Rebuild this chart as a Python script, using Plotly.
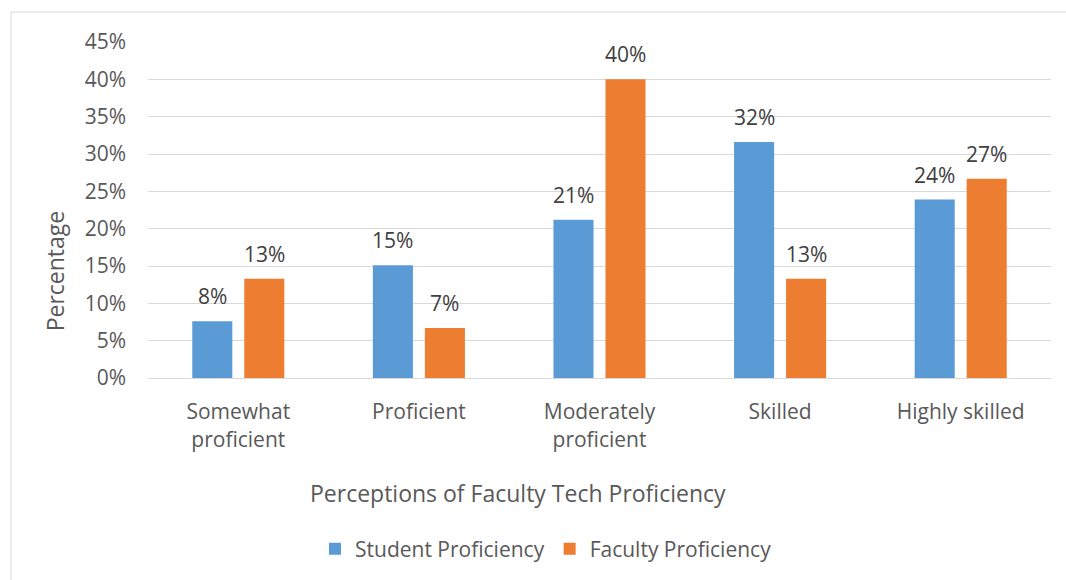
import plotly.graph_objects as go

categories = ["Somewhat<br>proficient", "Proficient", "Moderately<br>proficient", "Skilled", "Highly skilled"]
student = [7.6, 15.1, 21.2, 31.6, 23.9]
faculty = [13.3, 6.7, 40.0, 13.3, 26.7]
student_labels = ["8%", "15%", "21%", "32%", "24%"]
faculty_labels = ["13%", "7%", "40%", "13%", "27%"]
y_ticks = [0, 5, 10, 15, 20, 25, 30, 35, 40, 45]
y_ticklabels = [f"{v}%" for v in y_ticks]
x_title = "Perceptions of Faculty Tech Proficiency"
y_title = "Percentage"

FONT = "Open Sans"
BLUE = "#5B9BD5"
ORANGE = "#ED7D31"

W, H = 1066, 580
L, T = 148, 42
PW, PH = 903, 337
R, B = W - L - PW, H - T - PH


def px_x(page_x):
    return (page_x - L) / PW


def px_y(page_y):
    return (PH + T - page_y) / PH


fig = go.Figure()
fig.add_trace(go.Bar(name="Student Proficiency", x=categories, y=student,
                     marker=dict(color=BLUE, line=dict(width=0))))
fig.add_trace(go.Bar(name="Faculty Proficiency", x=categories, y=faculty,
                     marker=dict(color=ORANGE, line=dict(width=0))))

annotations = []
for cat, v, lab in zip(categories, student, student_labels):
    annotations.append(dict(x=cat, y=v, xref="x", yref="y", text=lab, showarrow=False,
                            xshift=-26, yshift=9, yanchor="bottom",
                            font=dict(family=FONT, size=21, color="#404040")))
for cat, v, lab in zip(categories, faculty, faculty_labels):
    annotations.append(dict(x=cat, y=v, xref="x", yref="y", text=lab, showarrow=False,
                            xshift=26, yshift=9, yanchor="bottom",
                            font=dict(family=FONT, size=21, color="#404040")))
annotations.append(dict(x=px_x(518), y=px_y(494), xref="paper", yref="paper", text=x_title,
                        showarrow=False, xanchor="center", yanchor="middle",
                        font=dict(family=FONT, size=23, color="#595959")))
annotations.append(dict(x=px_x(55), y=px_y(272), xref="paper", yref="paper", text=y_title,
                        showarrow=False, xanchor="center", yanchor="middle", textangle=-90,
                        font=dict(family=FONT, size=23, color="#595959")))

fig.update_layout(
    width=W, height=H,
    margin=dict(l=L, r=R, t=T, b=B),
    paper_bgcolor="white", plot_bgcolor="white",
    font=dict(family=FONT, color="#595959", size=21),
    barmode="group", bargap=0.424, bargroupgap=0.23,
    showlegend=True,
    legend=dict(orientation="h", x=px_x(546), xanchor="center", y=px_y(549), yanchor="middle",
                font=dict(family=FONT, size=21, color="#595959"),
                itemwidth=30, traceorder="normal"),
    annotations=annotations,
    shapes=[
        dict(type="line", xref="paper", yref="paper",
             x0=px_x(11), x1=px_x(1080), y0=px_y(12), y1=px_y(12),
             line=dict(color="#D9D9D9", width=1), layer="below"),
        dict(type="line", xref="paper", yref="paper",
             x0=px_x(11), x1=px_x(11), y0=px_y(12), y1=px_y(600),
             line=dict(color="#D9D9D9", width=1), layer="below"),
    ],
)
fig.update_yaxes(range=[0, 45], tickvals=y_ticks, ticktext=y_ticklabels,
                 showgrid=True, gridcolor="#D9D9D9", gridwidth=1.3,
                 zeroline=False, showline=False, ticks="",
                 tickfont=dict(family=FONT, size=21, color="#595959"), ticklabelstandoff=21)
fig.update_xaxes(showline=True, linecolor="#D9D9D9", linewidth=1.3, ticks="",
                 tickfont=dict(family=FONT, size=21, color="#595959"), ticklabelstandoff=15)

fig.write_html(
    "out.html",
    config={"displayModeBar": False},
    post_script="document.body.style.margin='0';document.body.style.overflow='hidden';",
)
